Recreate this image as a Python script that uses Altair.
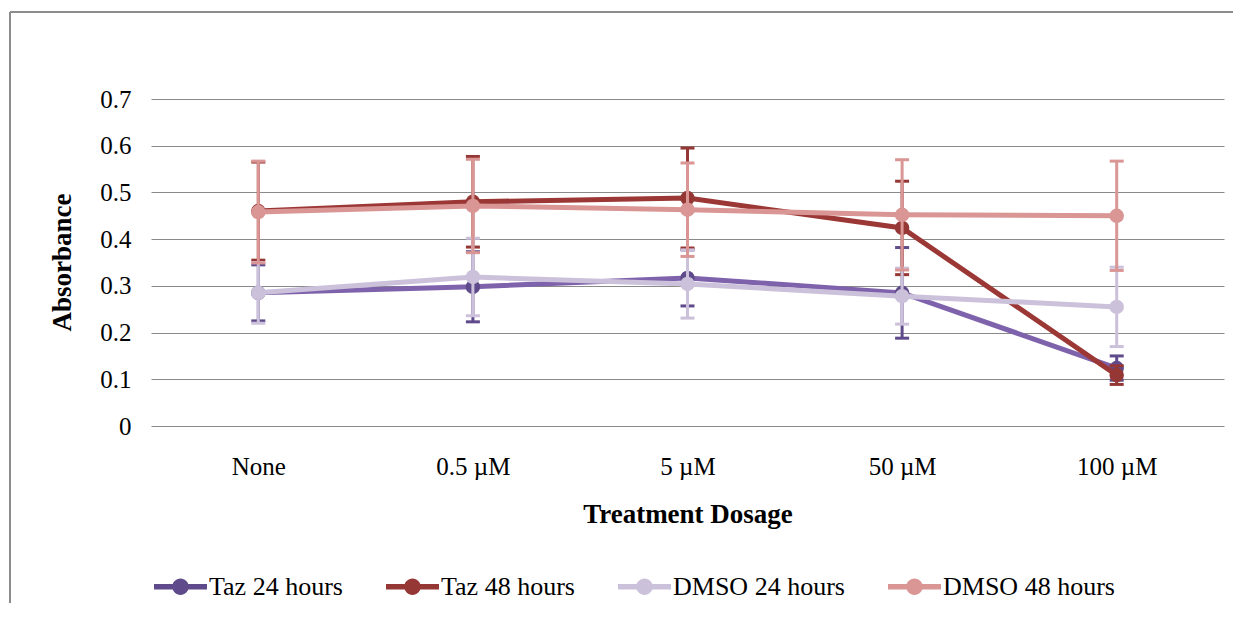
import altair as alt
import pandas as pd

doses = ["None", "0.5 µM", "5 µM", "50 µM", "100 µM"]
series_names = ["Taz 24 hours", "Taz 48 hours", "DMSO 24 hours", "DMSO 48 hours"]

taz24 = [0.285, 0.298, 0.317, 0.285, 0.124]
taz24_err = [0.060, 0.075, 0.060, 0.097, 0.026]
taz48 = [0.460, 0.480, 0.488, 0.424, 0.109]
taz48_err = [0.105, 0.097, 0.107, 0.100, 0.020]
dmso24 = [0.285, 0.319, 0.304, 0.278, 0.255]
dmso24_err = [0.065, 0.083, 0.073, 0.060, 0.085]
dmso48 = [0.458, 0.471, 0.463, 0.452, 0.450]
dmso48_err = [0.109, 0.100, 0.100, 0.118, 0.117]

marker_colors = ["#5f4b8b", "#953735", "#ccc1da", "#d99694"]
line_colors = ["#7e62ab", "#9b3836", "#ccc1da", "#d99694"]

values = [taz24, taz48, dmso24, dmso48]
errors = [taz24_err, taz48_err, dmso24_err, dmso48_err]

rows = []
for name, vals, errs in zip(series_names, values, errors):
    for d, v, e in zip(doses, vals, errs):
        rows.append({"series": name, "dose": d, "value": v, "lo": v - e, "hi": v + e})
df = pd.DataFrame(rows)

FONT = "Times New Roman, Liberation Serif, serif"

x_enc = alt.X(
    "dose:N",
    sort=doses,
    scale=alt.Scale(type="point", padding=0.5),
    axis=alt.Axis(
        title="Treatment Dosage",
        labelAngle=0,
        ticks=False,
        domain=False,
        grid=False,
        labelFont=FONT,
        labelFontSize=25,
        labelColor="#000000",
        labelPadding=28,
        titleFont=FONT,
        titleFontSize=27,
        titleFontWeight="bold",
        titleColor="#000000",
        titleBaseline="alphabetic",
        titleY=96,
    ),
)

y_scale = alt.Scale(domain=[0, 0.7], nice=False)
y_axis = alt.Axis(
    title="Absorbance",
    values=[0, 0.1, 0.2, 0.3, 0.4, 0.5, 0.6, 0.7],
    format=".1~f",
    ticks=False,
    domain=False,
    grid=True,
    gridColor="#8a8a8a",
    gridWidth=1.2,
    labelFont=FONT,
    labelFontSize=25,
    labelColor="#000000",
    labelPadding=20,
    titleFont=FONT,
    titleFontSize=27,
    titleFontWeight="bold",
    titleColor="#000000",
    titleBaseline="middle",
    titleX=-89,
    titleY=163,
)

color_scale = alt.Scale(domain=series_names, range=marker_colors)

base = alt.Chart(df)

layers = []
for i, name in enumerate(series_names):
    sub = base.transform_filter(alt.datum.series == name)
    line = sub.mark_line(strokeWidth=5, color=line_colors[i]).encode(
        x=x_enc, y=alt.Y("value:Q", scale=y_scale, axis=y_axis)
    )
    rule = sub.mark_rule(strokeWidth=3, color=marker_colors[i]).encode(
        x=x_enc, y=alt.Y("lo:Q", scale=y_scale, axis=y_axis), y2="hi:Q"
    )
    cap_lo = sub.mark_tick(size=14, thickness=3, color=marker_colors[i], opacity=1).encode(
        x=x_enc, y=alt.Y("lo:Q", scale=y_scale, axis=y_axis)
    )
    cap_hi = sub.mark_tick(size=14, thickness=3, color=marker_colors[i], opacity=1).encode(
        x=x_enc, y=alt.Y("hi:Q", scale=y_scale, axis=y_axis)
    )
    pts = sub.mark_point(filled=True, size=210, opacity=1).encode(
        x=x_enc,
        y=alt.Y("value:Q", scale=y_scale, axis=y_axis),
        color=alt.Color(
            "series:N",
            scale=color_scale,
            sort=series_names,
            legend=alt.Legend(
                title=None,
                orient="none",
                legendX=3,
                legendY=461,
                direction="horizontal",
                symbolType="M-1,-0.1H1V0.1H-1Z M0.31,0A0.31,0.31,0,1,1,-0.31,0A0.31,0.31,0,1,1,0.31,0Z",
                symbolSize=2809,
                symbolStrokeWidth=0,
                symbolOpacity=1,
                labelFont=FONT,
                labelFontSize=26,
                labelColor="#000000",
                labelOffset=2,
                labelLimit=0,
                columnPadding=43,
                padding=0,
            ),
        ),
    )
    layers += [line, rule, cap_lo, cap_hi, pts]

# outer frame (left and top edges, as in the reference)
frame_left = alt.Chart().mark_rule(color="#8c8c8c", strokeWidth=2).encode(
    x=alt.value(-141), y=alt.value(-87), y2=alt.value(520)
)
frame_top = alt.Chart().mark_rule(color="#8c8c8c", strokeWidth=2).encode(
    x=alt.value(-141), x2=alt.value(1090), y=alt.value(-87)
)

chart = alt.layer(frame_left, frame_top, *layers).properties(
    width=1073,
    height=327,
    autosize=alt.AutoSizeParams(type="none"),
    padding={"left": 143, "top": 91, "right": 9, "bottom": 177},
    background="#ffffff",
).configure_view(stroke=None)

chart.save("out.html", embed_options={"renderer": "svg", "actions": False})
